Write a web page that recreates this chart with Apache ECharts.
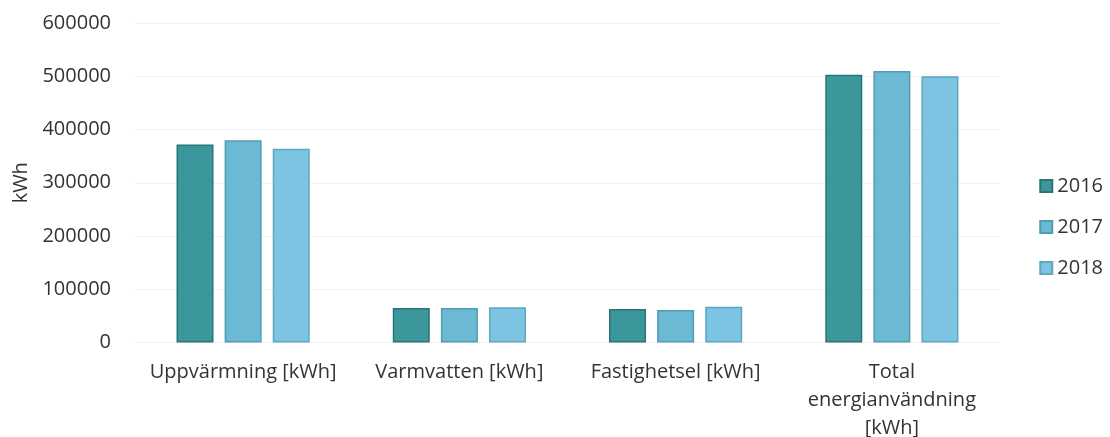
<!DOCTYPE html>
<html>
<head>
<meta charset="utf-8">
<script src="https://cdn.jsdelivr.net/npm/echarts@6/dist/echarts.min.js"></script>
<style>
  html, body { margin: 0; padding: 0; background: #ffffff; }
  #chart { width: 1110px; height: 437px; }
</style>
</head>
<body>
<div id="chart"></div>
<script>
// Energy use per category and year (kWh)
const categories = ['Uppvärmning [kWh]', 'Varmvatten [kWh]', 'Fastighetsel [kWh]', 'Total\nenergianvändning\n[kWh]'];
const years = ['2016', '2017', '2018'];
const values2016 = [372000, 65000, 63000, 503000];
const values2017 = [380000, 65000, 61000, 510000];
const values2018 = [364000, 66000, 67000, 500000];
const yTicks = [0, 100000, 200000, 300000, 400000, 500000, 600000];

const fill = ['#3c979c', '#6cb9d3', '#7dc4e2'];
const edge = ['#2a7479', '#4f9cb3', '#5ea6c2'];
const seriesValues = [values2016, values2017, values2018];

const chart = echarts.init(document.getElementById('chart'));
const font = '"Open Sans", Lato, sans-serif';

chart.setOption({
  animation: false,
  textStyle: { fontFamily: font },
  grid: { left: 135, right: 110, top: 23, bottom: 94.5, outerBoundsMode: 'none', containLabel: false },
  legend: {
    orient: 'vertical',
    right: 2,
    top: 171,
    itemWidth: 12,
    itemHeight: 12,
    itemGap: 21,
    icon: 'rect',
    textStyle: { fontSize: 20, color: '#333333', fontFamily: font },
    data: years
  },
  xAxis: {
    type: 'category',
    data: categories,
    axisLine: { show: false },
    axisTick: { show: false },
    axisLabel: {
      interval: 0,
      fontSize: 20,
      color: '#333333',
      margin: 16,
      lineHeight: 28,
      fontFamily: font
    }
  },
  yAxis: {
    type: 'value',
    min: yTicks[0],
    max: yTicks[yTicks.length - 1],
    interval: 100000,
    name: 'kWh',
    nameLocation: 'middle',
    nameGap: 103,
    nameRotate: 90,
    nameTextStyle: { fontSize: 20, color: '#333333', fontFamily: font },
    axisLine: { show: false },
    axisTick: { show: false },
    splitLine: { lineStyle: { color: '#f1f1f1', width: 1 } },
    axisLabel: {
      fontSize: 20,
      color: '#333333',
      margin: 24,
      fontFamily: font,
      formatter: v => String(v)
    }
  },
  series: years.map((y, i) => ({
    name: y,
    type: 'bar',
    data: seriesValues[i],
    barWidth: 37,
    barGap: '30%',
    itemStyle: { color: fill[i], borderColor: edge[i], borderWidth: 1.5 }
  }))
});
</script>
</body>
</html>
